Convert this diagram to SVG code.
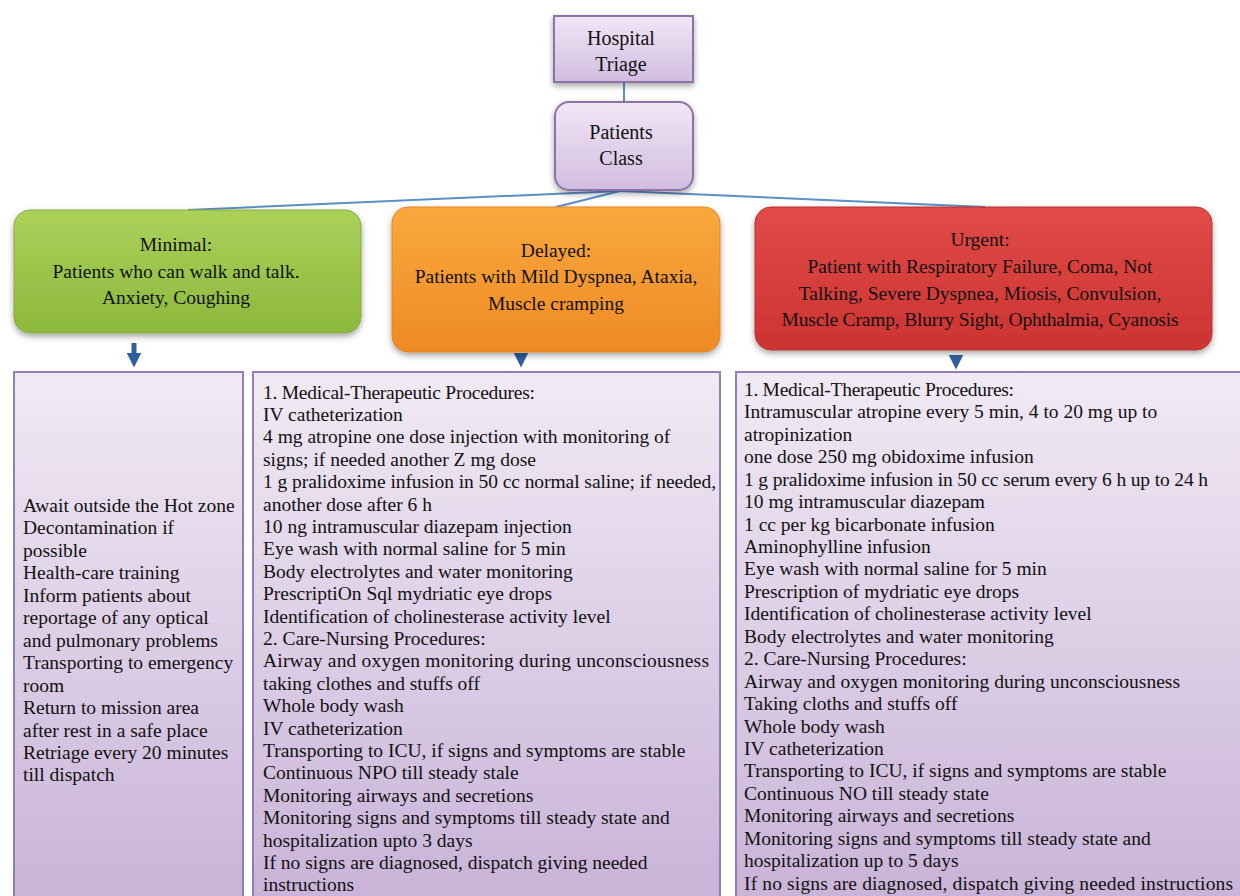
<svg xmlns="http://www.w3.org/2000/svg" width="1240" height="896" viewBox="0 0 1240 896">
<defs>
<linearGradient id="gPurple" x1="0" y1="0" x2="0" y2="1"><stop offset="0" stop-color="#f1e6f5"/><stop offset="1" stop-color="#d2bde0"/></linearGradient>
<linearGradient id="gPanel" x1="0" y1="0" x2="0" y2="1"><stop offset="0" stop-color="#f1eaf4"/><stop offset="1" stop-color="#c9b3d8"/></linearGradient>
<linearGradient id="gGreen" x1="0" y1="0" x2="0" y2="1"><stop offset="0" stop-color="#abd15a"/><stop offset="1" stop-color="#8cb83d"/></linearGradient>
<linearGradient id="gOrange" x1="0" y1="0" x2="0" y2="1"><stop offset="0" stop-color="#f9a83e"/><stop offset="1" stop-color="#ee8a24"/></linearGradient>
<linearGradient id="gRed" x1="0" y1="0" x2="0" y2="1"><stop offset="0" stop-color="#e04a48"/><stop offset="1" stop-color="#cc3431"/></linearGradient>
<filter id="sh" x="-5%" y="-5%" width="110%" height="120%"><feDropShadow dx="0" dy="3" stdDeviation="3" flood-color="#000" flood-opacity="0.35"/></filter>
<marker id="ah" viewBox="0 0 10 10" refX="5" refY="5" markerWidth="3" markerHeight="3" orient="auto" markerUnits="strokeWidth"><path d="M0,0 L10,5 L0,10 z" fill="#2f5f9c"/></marker>
</defs>
<style>
text{font-family:"Liberation Serif","DejaVu Serif",serif;fill:#111;}
.hd{font-size:19.5px;text-anchor:middle;}
.hd2{font-size:20px;text-anchor:middle;}
.bd{font-size:19.5px;}
.panel{fill:url(#gPanel);stroke:#8e80b2;stroke-width:2;}
.conn{stroke:#5b8fc7;stroke-width:2;fill:none;}
.arr{stroke:#2f5f9c;stroke-width:5;fill:none;}
</style>
<rect width="1240" height="896" fill="#fff"/>
<g id="connectors">
<line class="conn" x1="624" y1="82" x2="624" y2="103"/>
<path class="conn" d="M620,191 L188,210"/>
<path class="conn" d="M620,191 L556,207"/>
<path class="conn" d="M620,191 L985,207"/>
<line class="arr" x1="134" y1="343" x2="134" y2="360" marker-end="url(#ah)"/>
<line class="arr" x1="521" y1="357" x2="521" y2="360" marker-end="url(#ah)"/>
<line class="arr" x1="956" y1="355" x2="956" y2="362" marker-end="url(#ah)"/>
</g>
<g id="hospital-triage">
<rect x="554" y="16" width="139" height="66" fill="url(#gPurple)" stroke="#8d72aa" stroke-width="2" filter="url(#sh)"/>
<text class="hd2" x="621" y="45">Hospital</text>
<text class="hd2" x="621" y="71">Triage</text>
</g>
<g id="patients-class">
<rect x="555" y="102" width="138" height="88" rx="14" fill="url(#gPurple)" stroke="#8d72aa" stroke-width="2" filter="url(#sh)"/>
<text class="hd2" x="621" y="139">Patients</text>
<text class="hd2" x="621" y="165">Class</text>
</g>
<g id="minimal">
<rect x="14" y="210" width="347" height="123" rx="16" fill="url(#gGreen)" stroke="#86ab3c" stroke-width="1" filter="url(#sh)"/>
<text class="hd" x="176" y="251">Minimal:</text>
<text class="hd" x="176" y="278" textLength="247">Patients who can walk and talk.</text>
<text class="hd" x="176" y="304">Anxiety, Coughing</text>
</g>
<g id="delayed">
<rect x="392" y="207" width="328" height="145" rx="16" fill="url(#gOrange)" stroke="#e08525" stroke-width="1" filter="url(#sh)"/>
<text class="hd" x="556" y="257">Delayed:</text>
<text class="hd" x="556" y="283">Patients with Mild Dyspnea, Ataxia,</text>
<text class="hd" x="556" y="310">Muscle cramping</text>
</g>
<g id="urgent">
<rect x="755" y="207" width="457" height="143" rx="16" fill="url(#gRed)" stroke="#b83230" stroke-width="1" filter="url(#sh)"/>
<text class="hd" x="980" y="246">Urgent:</text>
<text class="hd" x="980" y="273">Patient with Respiratory Failure, Coma, Not</text>
<text class="hd" x="980" y="300">Talking, Severe Dyspnea, Miosis, Convulsion,</text>
<text class="hd" x="980" y="326" textLength="397">Muscle Cramp, Blurry Sight, Ophthalmia, Cyanosis</text>
</g>
<g id="minimal-actions">
<rect class="panel" x="14" y="372" width="229" height="530"/>
<text class="bd">
<tspan x="23" y="512">Await outside the Hot zone</tspan>
<tspan x="23" y="534">Decontamination if</tspan>
<tspan x="23" y="557">possible</tspan>
<tspan x="23" y="579">Health-care training</tspan>
<tspan x="23" y="602">Inform patients about</tspan>
<tspan x="23" y="624">reportage of any optical</tspan>
<tspan x="23" y="647">and pulmonary problems</tspan>
<tspan x="23" y="669">Transporting to emergency</tspan>
<tspan x="23" y="692">room</tspan>
<tspan x="23" y="714">Return to mission area</tspan>
<tspan x="23" y="737">after rest in a safe place</tspan>
<tspan x="23" y="759">Retriage every 20 minutes</tspan>
<tspan x="23" y="781">till dispatch</tspan>
</text>
</g>
<g id="delayed-actions">
<rect class="panel" x="253" y="372" width="467" height="530"/>
<text class="bd" x="263" y="399" textLength="272">1. Medical-Therapeutic Procedures:</text>
<text class="bd" x="263" y="488" textLength="453">1 g pralidoxime infusion in 50 cc normal saline; if needed,</text>
<text class="bd" x="263" y="667" textLength="446">Airway and oxygen monitoring during unconsciousness</text>
<text class="bd">
<tspan x="263" y="421">IV catheterization</tspan>
<tspan x="263" y="443">4 mg atropine one dose injection with monitoring of</tspan>
<tspan x="263" y="466">signs; if needed another Z mg dose</tspan>
<tspan x="263" y="511">another dose after 6 h</tspan>
<tspan x="263" y="533">10 ng intramuscular diazepam injection</tspan>
<tspan x="263" y="555">Eye wash with normal saline for 5 min</tspan>
<tspan x="263" y="578">Body electrolytes and water monitoring</tspan>
<tspan x="263" y="600">PrescriptiOn Sql mydriatic eye drops</tspan>
<tspan x="263" y="623">Identification of cholinesterase activity level</tspan>
<tspan x="263" y="645">2. Care-Nursing Procedures:</tspan>
<tspan x="263" y="690">taking clothes and stuffs off</tspan>
<tspan x="263" y="712">Whole body wash</tspan>
<tspan x="263" y="735">IV catheterization</tspan>
<tspan x="263" y="757">Transporting to ICU, if signs and symptoms are stable</tspan>
<tspan x="263" y="779">Continuous NPO till steady stale</tspan>
<tspan x="263" y="802">Monitoring airways and secretions</tspan>
<tspan x="263" y="824">Monitoring signs and symptoms till steady state and</tspan>
<tspan x="263" y="847">hospitalization upto 3 days</tspan>
<tspan x="263" y="869">If no signs are diagnosed, dispatch giving needed</tspan>
<tspan x="263" y="891">instructions</tspan>
</text>
</g>
<g id="urgent-actions">
<rect class="panel" x="736" y="372" width="510" height="530"/>
<text class="bd" x="744" y="396" textLength="270">1. Medical-Therapeutic Procedures:</text>
<text class="bd" x="744" y="486" textLength="464">1 g pralidoxime infusion in 50 cc serum every 6 h up to 24 h</text>
<text class="bd" x="744" y="890" textLength="489">If no signs are diagnosed, dispatch giving needed instructions</text>
<text class="bd">
<tspan x="744" y="418">Intramuscular atropine every 5 min, 4 to 20 mg up to</tspan>
<tspan x="744" y="441">atropinization</tspan>
<tspan x="744" y="463">one dose 250 mg obidoxime infusion</tspan>
<tspan x="744" y="508">10 mg intramuscular diazepam</tspan>
<tspan x="744" y="531">1 cc per kg bicarbonate infusion</tspan>
<tspan x="744" y="553">Aminophylline infusion</tspan>
<tspan x="744" y="575">Eye wash with normal saline for 5 min</tspan>
<tspan x="744" y="598">Prescription of mydriatic eye drops</tspan>
<tspan x="744" y="620">Identification of cholinesterase activity level</tspan>
<tspan x="744" y="643">Body electrolytes and water monitoring</tspan>
<tspan x="744" y="665">2. Care-Nursing Procedures:</tspan>
<tspan x="744" y="688">Airway and oxygen monitoring during unconsciousness</tspan>
<tspan x="744" y="710">Taking cloths and stuffs off</tspan>
<tspan x="744" y="733">Whole body wash</tspan>
<tspan x="744" y="755">IV catheterization</tspan>
<tspan x="744" y="777">Transporting to ICU, if signs and symptoms are stable</tspan>
<tspan x="744" y="800">Continuous NO till steady state</tspan>
<tspan x="744" y="822">Monitoring airways and secretions</tspan>
<tspan x="744" y="845">Monitoring signs and symptoms till steady state and</tspan>
<tspan x="744" y="867">hospitalization up to 5 days</tspan>
</text>
</g>
</svg>
